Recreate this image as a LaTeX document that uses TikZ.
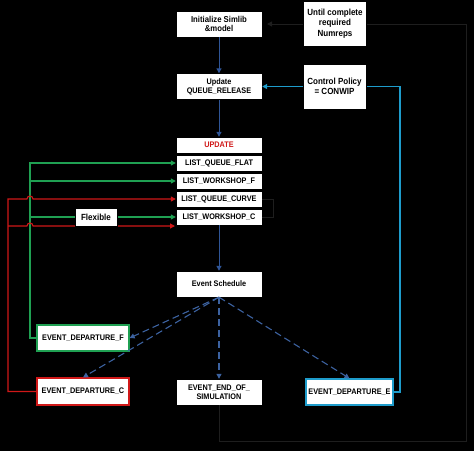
\documentclass[tikz,border=0pt]{standalone}
\usepackage{fontspec}
\setmainfont[FakeStretch=0.9]{Liberation Sans}
\usetikzlibrary{arrows.meta}
\definecolor{navy}{HTML}{2F5597}
\definecolor{dashblue}{HTML}{3C62A0}
\definecolor{flexgreen}{HTML}{1FA052}
\definecolor{curvered}{HTML}{D01818}
\definecolor{policycyan}{HTML}{1E9CCB}
\definecolor{loopgray}{HTML}{1E1E1E}
\begin{document}
\begin{tikzpicture}[x=1pt,y=-1pt,
  box/.style={fill=white,draw=black,line width=0.4pt,minimum width=86pt,minimum height=26pt,
    inner sep=1pt,align=center,font=\bfseries\fontsize{8.1}{9.2}\selectfont},
  listbox/.style={box,minimum height=16pt},
  sidebox/.style={box,minimum width=63pt,minimum height=45pt,font=\bfseries\fontsize{8.9}{10.4}\selectfont},
  evbox/.style={box,minimum width=92pt,line width=1.2pt},
  tip/.style={-{Triangle[length=5pt,width=5pt]}},
  flow/.style={tip,navy,line width=1pt},
  sched/.style={tip,dashblue,line width=1.1pt,dash pattern=on 7pt off 4pt},
  greenline/.style={tip,flexgreen,line width=1.1pt},
  redline/.style={tip,curvered,line width=1.1pt},
  cyanline/.style={tip,policycyan,line width=1.1pt},
  loopline/.style={loopgray,line width=1pt}]
\fill[black] (0,0) rectangle (474,451);

% right side loop (drawn first, boxes on top)
\coordinate (loopend) at (267,24);
\coordinate (c1) at (219,441);
\coordinate (c2) at (466,441);
\coordinate (c3) at (466,24);

\node[box,font=\bfseries\fontsize{8.6}{9.8}\selectfont] (init) at (219,24) {Initialize Simlib\\\&model};
\node[box] (release) at (219,86.5) {Update\\QUEUE\_RELEASE};
\node[listbox,text=curvered] (update) at (219,145) {UPDATE};
\node[listbox] (flat) at (219,163) {LIST\_QUEUE\_FLAT};
\node[listbox] (wsf) at (219,181) {LIST\_WORKSHOP\_F};
\node[listbox] (curve) at (219,199) {LIST\_QUEUE\_CURVE};
\node[listbox] (wsc) at (219,217) {LIST\_WORKSHOP\_C};
\node[box] (schedule) at (219,284) {Event Schedule};
\node[box] (endsim) at (219,392) {EVENT\_END\_OF\_\\SIMULATION};
\node[evbox,draw=flexgreen] (depf) at (83,338) {EVENT\_DEPARTURE\_F};
\node[evbox,draw=curvered,minimum height=27pt] (depc) at (83,391.5) {EVENT\_DEPARTURE\_C};
\node[evbox,draw=policycyan,minimum width=87pt] (depe) at (349.5,392) {EVENT\_DEPARTURE\_E};

% main flow
\draw[flow] (init) -- (release);
\draw[flow] (release) -- (update);
\draw[flow] (wsc) -- (schedule);
\draw[loopline] (curve.east) -- ++(11,0) |- (wsc.east);

% scheduled events
\draw[sched] (schedule.south) -- (depf.east);
\draw[sched] (schedule.south) -- (depc.north);
\draw[sched] (schedule.south) -- (endsim.north);
\draw[sched] (schedule.south) -- (depe.north);

% feedback of departures
\coordinate (g1) at (30,163);
\coordinate (r1) at (8,199);
\coordinate (r2) at (8,226);
\coordinate (r2end) at (175,226);
\draw[greenline] (depf.west) -| (g1) -- (flat.west);
\draw[greenline] (30,181) -- (wsf.west);
\draw[greenline] (30,217) -- (wsc.west);
\draw[redline] (depc.west) -| (r1) -- (27,199) arc[start angle=180,end angle=360,radius=3] -- (curve.west);
\draw[redline] (r2) -- (27,226) arc[start angle=180,end angle=360,radius=3] -- (r2end);
\node[box,minimum width=42pt,minimum height=18pt,font=\bfseries\fontsize{8.9}{10.4}\selectfont] (flexible) at (96,217) {Flexible};

% control policy
\draw[cyanline] (depe.east) -- (400,392) |- (release.east);
\node[sidebox] (policy) at (334.5,86.5) {Control Policy\\= CONWIP};

% replications
\draw[loopline,tip] (endsim.south) -- (c1) -- (c2) -- (c3) -- (loopend);
\node[sidebox] (numreps) at (335,23.5) {Until complete\\required\\Numreps};
\end{tikzpicture}
\end{document}
